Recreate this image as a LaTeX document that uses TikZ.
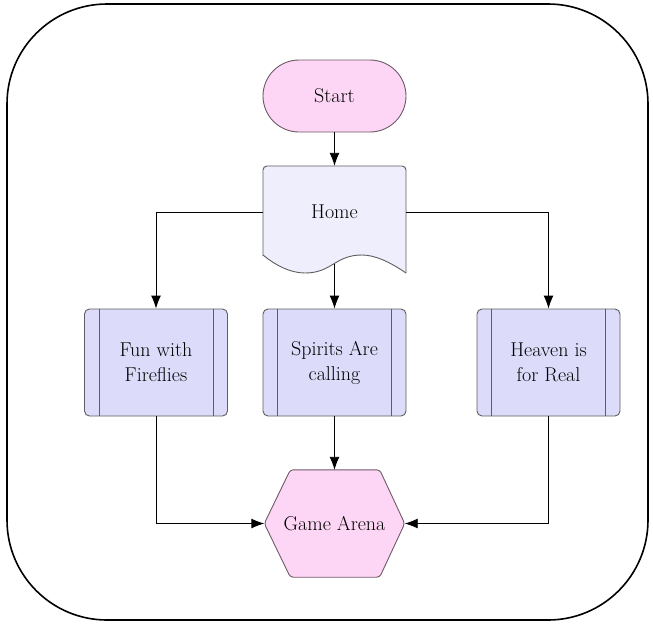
\documentclass[tikz,border=0pt]{standalone}
\usetikzlibrary{arrows.meta}
\definecolor{pinkfill}{HTML}{FDD6F5}
\definecolor{homefill}{HTML}{EEEEFC}
\definecolor{procfill}{HTML}{DCDCFA}
\definecolor{edgegray}{HTML}{5E5E5E}
\definecolor{pinkedge}{HTML}{6E5A68}
\begin{document}
\begin{tikzpicture}[x=1pt,y=-1pt,
  lbl/.style={font=\fontsize{20}{25}\selectfont, align=center, text=black},
  startbox/.style={lbl, draw=pinkedge, fill=pinkfill, line width=0.9pt, rounded corners=36pt, minimum width=143pt, minimum height=72pt, inner sep=0pt},
  procbox/.style={lbl, draw=edgegray, fill=procfill, line width=0.9pt, rounded corners=5pt, minimum width=143pt, minimum height=107pt, inner sep=0pt},
  ghost/.style={lbl, draw=none, inner sep=0pt},
  conn/.style={line width=0.9pt, black, -{Latex[length=13pt,width=10pt]}}
]
\useasboundingbox (0,0) rectangle (653,625);
\draw[line width=1.6pt, rounded corners=100pt] (7,4) rectangle (648,620);

% Start
\node[startbox] (start) at (334.5,96) {Start};

% Home (document shape)
\fill[homefill] (263,255) -- (263,166) -- (406,166) -- (406,273)
  .. controls (390,262) and (375,255) .. (362,255)
  .. controls (335,255) and (332,273) .. (305,273)
  .. controls (290,273) and (275,265) .. (263,255) -- cycle;
\draw[edgegray, line width=0.9pt, rounded corners=4pt]
  (263,256) -- (263,166) -- (406,166) -- (406,273);
\draw[edgegray, line width=0.9pt] (406,273)
  .. controls (390,262) and (375,255) .. (362,255)
  .. controls (335,255) and (332,273) .. (305,273)
  .. controls (290,273) and (275,265) .. (263,255);
\node[ghost, minimum width=143pt, minimum height=92pt] (home) at (334.5,212) {Home};
\coordinate (homeb) at (334.5,264);

% Processes
\node[procbox] (p1) at (156,362.5) {Fun with\\Fireflies};
\node[procbox] (p2) at (334.5,362.5) {Spirits Are\\calling};
\node[procbox] (p3) at (548.5,362.5) {Heaven is\\for Real};
\foreach \n in {p1,p2,p3}{
  \draw[edgegray, line width=0.9pt] ([xshift=15pt]\n.north west) -- ([xshift=15pt]\n.south west);
  \draw[edgegray, line width=0.9pt] ([xshift=-15pt]\n.north east) -- ([xshift=-15pt]\n.south east);
}

% Game Arena hexagon
\node[ghost, minimum width=140pt, minimum height=107pt] (arena) at (334.5,523.5) {};
\draw[pinkedge, fill=pinkfill, line width=0.9pt, rounded corners=3pt]
  (arena.west) -- ([xshift=26pt]arena.north west) -- ([xshift=-25pt]arena.north east)
  -- (arena.east) -- ([xshift=-25pt]arena.south east) -- ([xshift=26pt]arena.south west) -- cycle;
\node[lbl] at (arena.center) {Game Arena};

% Connectors
\draw[conn] (start.south) -- (home.north);
\draw[conn] (home.west) -| (p1.north);
\draw[conn] (home.east) -| (p3.north);
\draw[conn] (homeb) -- (p2.north);
\draw[conn] (p2.south) -- (arena.north);
\draw[conn] (p1.south) |- (arena.west);
\draw[conn] (p3.south) |- (arena.east);
\end{tikzpicture}
\end{document}
